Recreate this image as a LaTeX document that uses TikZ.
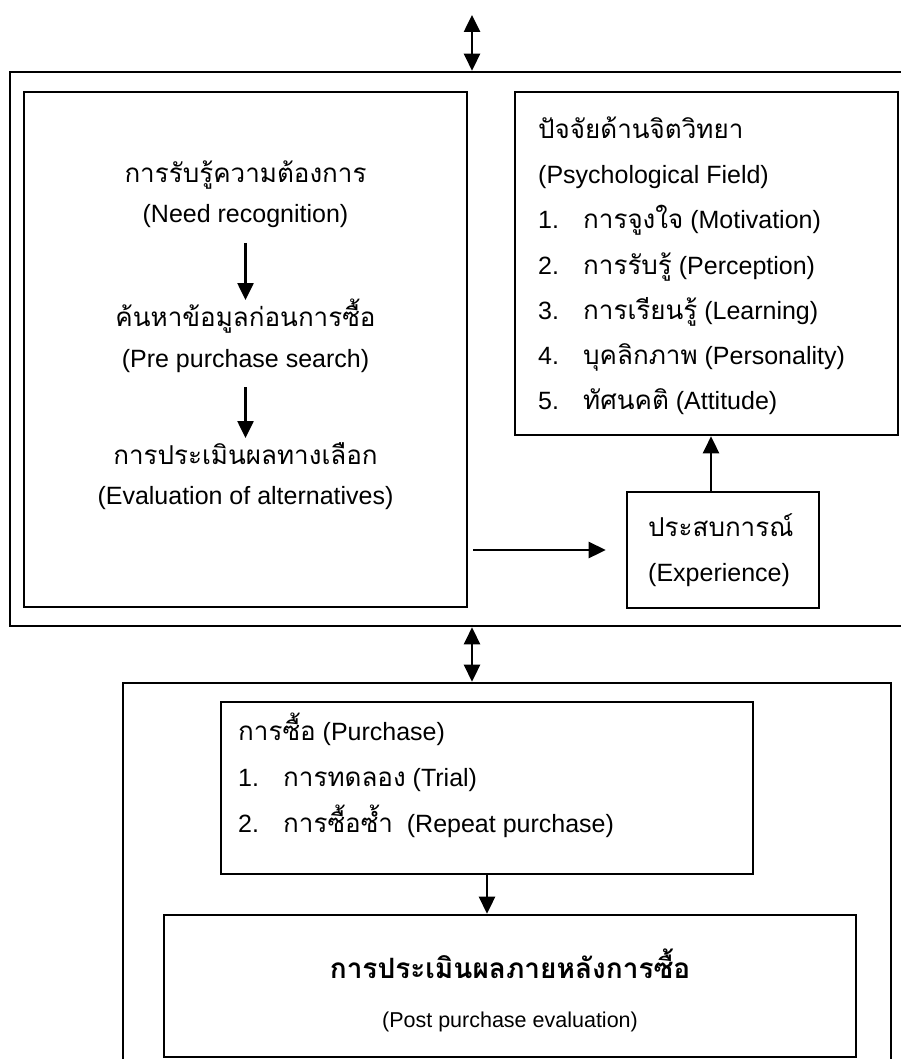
\documentclass[tikz,border=0pt]{standalone}
\usepackage{fontspec}
\setmainfont{Liberation Sans}
\newfontfamily\thaifont[Script=Thai]{Loma}
\newcommand\thx[1]{{\thaifont\fontsize{26}{30}\selectfont #1}}
\usetikzlibrary{arrows.meta}
\begin{document}
\begin{tikzpicture}[x=1pt,y=-1pt,
  box/.style={draw, line width=2.6pt, inner sep=0pt, rectangle},
  txt/.style={inner sep=0pt, font=\fontsize{25}{30}\selectfont},
  arr/.style={line width=2.6pt, -{Triangle[width=16pt,length=17pt]}},
  dbl/.style={line width=2.6pt, {Triangle[width=16pt,length=17pt]}-{Triangle[width=16pt,length=17pt]}}]
\useasboundingbox (0,0) rectangle (901,1059);
\clip (0,0) rectangle (901,1059);
% boxes
\node[box, minimum width=950pt, minimum height=554pt] (outerA) at (485,349) {};
\node[box, minimum width=443pt, minimum height=515pt] (leftbox) at (245.5,349.5) {};
\node[box, minimum width=383pt, minimum height=343pt] (psych) at (706.5,263.5) {};
\node[box, minimum width=192pt, minimum height=116pt] (exp) at (723,550) {};
\node[box, minimum width=768pt, minimum height=417pt] (outerB) at (507,891.5) {};
\node[box, minimum width=532pt, minimum height=172pt] (purch) at (487,788) {};
\node[box, minimum width=692pt, minimum height=142pt] (post) at (510,986) {};
% left box texts
\node[txt, anchor=base] (n1) at (245.5,183) {\thx{การรับรู้ความต้องการ}};
\node[txt, anchor=base] (n2) at (245.5,223) {(Need recognition)};
\node[txt, anchor=base] (s1) at (245.5,326) {\thx{ค้นหาข้อมูลก่อนการซื้อ}};
\node[txt, anchor=base] (s2) at (245.5,367) {(Pre purchase search)};
\node[txt, anchor=base] (v1) at (245.5,464) {\thx{การประเมินผลทางเลือก}};
\node[txt, anchor=base] (v2) at (245.5,504) {(Evaluation of alternatives)};
\coordinate (a1) at (245.5,243);
\coordinate (a2) at (245.5,300);
\coordinate (a3) at (245.5,387);
\coordinate (a4) at (245.5,438);
\draw[arr] (a1) -- (a2);
\draw[arr] (a3) -- (a4);
% psych texts
\node[txt, anchor=base west] (p0) at (538,139) {\thx{ปัจจัยด้านจิตวิทยา}};
\node[txt, anchor=base west] (p00) at (538,184) {(Psychological Field)};
\node[txt, anchor=base west] (p1) at (538,229) {\makebox[45pt][l]{1.}\thx{การจูงใจ} (Motivation)};
\node[txt, anchor=base west] (p2) at (538,274) {\makebox[45pt][l]{2.}\thx{การรับรู้} (Perception)};
\node[txt, anchor=base west] (p3) at (538,319) {\makebox[45pt][l]{3.}\thx{การเรียนรู้} (Learning)};
\node[txt, anchor=base west] (p4) at (538,364) {\makebox[45pt][l]{4.}\thx{บุคลิกภาพ} (Personality)};
\node[txt, anchor=base west] (p5) at (538,409) {\makebox[45pt][l]{5.}\thx{ทัศนคติ} (Attitude)};
% experience texts
\node[txt, anchor=base west] (e1) at (648,536) {\thx{ประสบการณ์}};
\node[txt, anchor=base west] (e2) at (648,581) {(Experience)};
% purchase texts
\node[txt, anchor=base west] (u0) at (238,740) {\thx{การซื้อ} (Purchase)};
\node[txt, anchor=base west] (u1) at (238,786) {\makebox[45pt][l]{1.}\thx{การทดลอง} (Trial)};
\node[txt, anchor=base west] (u2) at (238,832) {\makebox[45pt][l]{2.}\thx{การซื้อซ้ำ}\ \ (Repeat purchase)};
% post texts
\node[txt, anchor=base] (q1) at (510,978) {{\thaifont\bfseries\fontsize{28}{32}\selectfont การประเมินผลภายหลังการซื้อ}};
\node[txt, anchor=base, font=\fontsize{21.5}{25}\selectfont] (q2) at (510,1027) {(Post purchase evaluation)};
% connectors
\coordinate (top) at (472,15);
\draw[dbl] (top) -- (top |- outerA.north);
\draw[dbl] (top |- outerA.south) -- (top |- outerB.north);
\draw[arr] ([xshift=5pt]leftbox.east |- exp.west) -- ([xshift=-20pt]exp.west);
\draw[arr] ([xshift=-12pt]exp.north) -- ([xshift=-12pt]exp.north |- psych.south);
\draw[arr] (purch.south) -- (purch.south |- post.north);
\end{tikzpicture}
\end{document}
